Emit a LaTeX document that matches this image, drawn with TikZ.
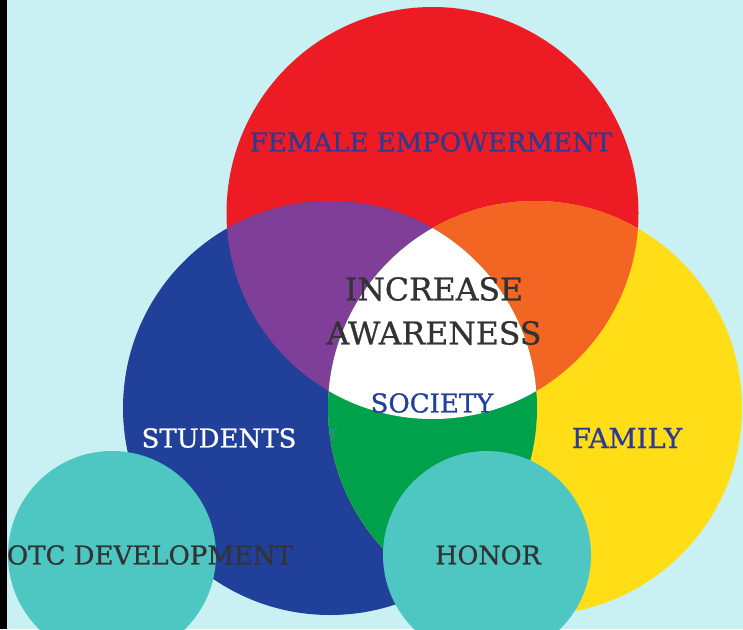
\documentclass[tikz,border=0pt]{standalone}
\usepackage{fontspec}
\setmainfont{DejaVu Serif}[BoldFont=DejaVu Serif, BoldFeatures={FakeBold=0.8}]
\usetikzlibrary{positioning}

\definecolor{bgcyan}{HTML}{C9F1F3}
\definecolor{vred}{HTML}{ED1C24}
\definecolor{vblue}{HTML}{21409A}
\definecolor{vyellow}{HTML}{FFDE17}
\definecolor{vpurple}{HTML}{7F3F98}
\definecolor{vorange}{HTML}{F26522}
\definecolor{vgreen}{HTML}{00A14B}
\definecolor{vteal}{HTML}{4EC6C2}
\definecolor{darktext}{HTML}{333333}
\definecolor{navytext}{HTML}{2B3A94}

\tikzset{
  lbl/.style={inner sep=0pt, align=center},
}

\begin{document}
\begin{tikzpicture}[x=1pt,y=-1pt]
\useasboundingbox (0,0) rectangle (743,629);
\fill[bgcyan] (0,0) rectangle (743,629);
\fill[black] (0,0) rectangle (7,629);

% centres of the three big circles
\coordinate (top) at (432.5,213);
\coordinate (left) at (330,408);
\coordinate (right) at (535,408);

\fill[vred] (top) circle[radius=206pt];
\fill[vblue] (left) circle[radius=207pt];
\fill[vyellow] (right) circle[radius=207pt];

% overlaps
\begin{scope}
  \clip (top) circle[radius=206pt];
  \fill[vpurple] (left) circle[radius=207pt];
  \fill[vorange] (right) circle[radius=207pt];
\end{scope}
\begin{scope}
  \clip (left) circle[radius=207pt];
  \fill[vgreen] (right) circle[radius=207pt];
  \clip (top) circle[radius=206pt];
  \fill[white] (right) circle[radius=207pt];
\end{scope}

% small circles at the bottom
\foreach \cx in {112,487}{
  \fill[vteal] (\cx,555) circle[radius=104pt];
}

\node[lbl, text=navytext, font=\bfseries\fontsize{26}{30}\selectfont] (female) at (431,142) {FEMALE EMPOWERMENT};
\node[lbl, text=darktext, font=\bfseries\fontsize{31.5}{44}\selectfont] (aware) at (434,311) {INCREASE\\AWARENESS};
\node[lbl, text=vblue, font=\bfseries\fontsize{26}{28}\selectfont] (society) at (432,403) {SOCIETY};
\node[lbl, text=white, font=\bfseries\fontsize{26}{28}\selectfont] (students) at (219,438) {STUDENTS};
\node[lbl, text=navytext, font=\bfseries\fontsize{27.5}{28}\selectfont] (family) at (627,438) {FAMILY};
\node[lbl, text=navytext!70, font=\fontsize{12}{12}\selectfont] (stray) at (333,434) {T};
\node[lbl, text=darktext, font=\bfseries\fontsize{26}{28}\selectfont] (otc) at (150,555) {OTC DEVELOPMENT};
\node[lbl, text=darktext, font=\bfseries\fontsize{25.5}{28}\selectfont] (honor) at (488,555) {HONOR};
\end{tikzpicture}
\end{document}
